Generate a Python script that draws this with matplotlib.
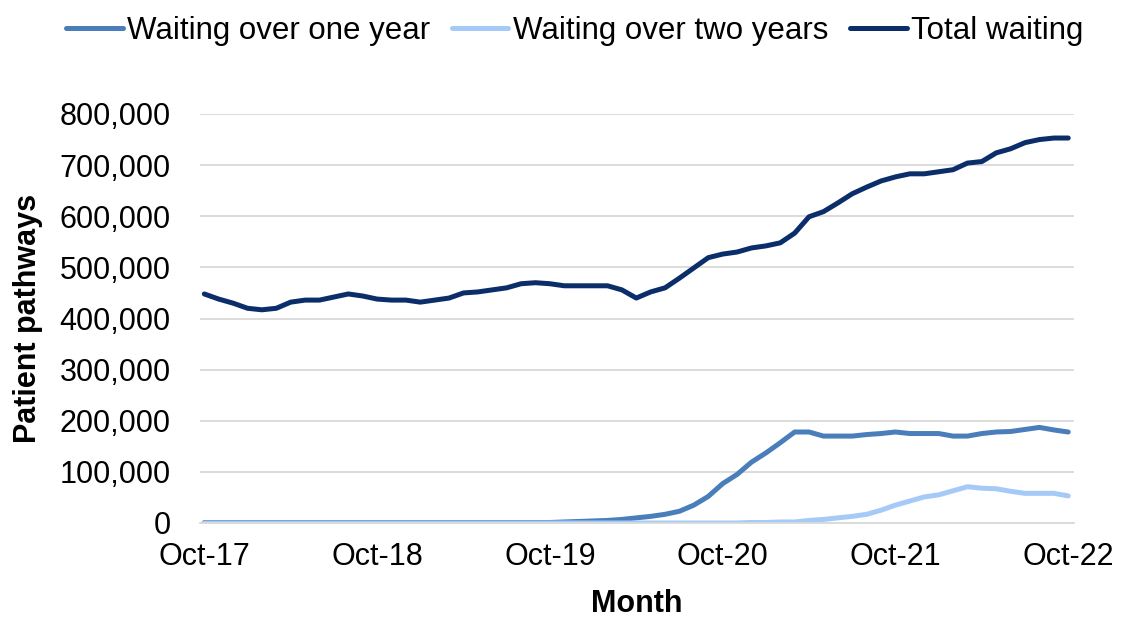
import matplotlib
matplotlib.use("Agg")
import matplotlib.pyplot as plt
from matplotlib.ticker import FuncFormatter

plt.rcParams['font.family'] = ['Liberation Sans', 'DejaVu Sans']

tick_labels = ["Oct-17", "Oct-18", "Oct-19", "Oct-20", "Oct-21", "Oct-22"]

total_waiting = [
    448, 438, 430, 420, 417, 420, 432, 436, 436, 442,
    448, 444, 438, 436, 436, 432, 436, 440, 450, 452,
    456, 460, 468, 470, 468, 464, 464, 464, 464, 456,
    440, 452, 460, 479, 499, 519, 526, 530, 538, 542,
    548, 567, 599, 609, 626, 644, 657, 669, 677, 683,
    683, 687, 691, 704, 707, 724, 732, 744, 750, 753, 753,
]
over_one_year = [
    1, 1, 1, 1, 1, 1, 1, 1, 1, 1,
    1, 1, 1, 1, 1, 1, 1, 1, 1, 1,
    1, 1, 1, 1, 1, 2, 3, 4, 5, 7,
    10, 13, 17, 23, 35, 52, 77, 95, 119, 137,
    157, 178, 178, 170, 170, 170, 173, 175, 178, 175,
    175, 175, 170, 170, 175, 178, 179, 183, 187, 182, 178,
]
over_two_years = [
    0, 0, 0, 0, 0, 0, 0, 0, 0, 0,
    0, 0, 0, 0, 0, 0, 0, 0, 0, 0,
    0, 0, 0, 0, 0, 0, 0, 0, 0, 0,
    0, 0, 0, 0, 0, 0, 0, 0, 1, 1,
    2, 2, 5, 7, 10, 13, 17, 25, 35, 43,
    51, 55, 63, 71, 68, 67, 62, 58, 58, 58, 53,
]

months = list(range(len(total_waiting)))
scale = 1000

fig = plt.figure(figsize=(11.21, 6.21), dpi=100)
ax = fig.add_axes([200/1121, (621-523)/621, (1074-200)/1121, (523-114)/621])

c1 = "#4A7EBB"
c2 = "#A6CAF8"
c3 = "#0B2E6B"
ax.plot(months, [v*scale for v in over_one_year], color=c1, lw=3.6, label="Waiting over one year", solid_capstyle='round')
ax.plot(months, [v*scale for v in over_two_years], color=c2, lw=3.6, label="Waiting over two years", solid_capstyle='round')
ax.plot(months, [v*scale for v in total_waiting], color=c3, lw=3.6, label="Total waiting", solid_capstyle='round')

ax.set_xlim(-0.3, 60.4)
ax.set_ylim(0, 800000)
ax.set_yticks(range(0, 800001, 100000))
ax.yaxis.set_major_formatter(FuncFormatter(lambda v, p: f"{int(v):,}"))
ax.set_xticks([0, 12, 24, 36, 48, 60])
ax.set_xticklabels(tick_labels)
ax.grid(axis='y', color='#D9D9D9', lw=1.3)
ax.set_axisbelow(True)
for s in ['top', 'right', 'left']:
    ax.spines[s].set_visible(False)
ax.spines['bottom'].set_color('#D9D9D9')
ax.spines['bottom'].set_linewidth(1.3)
ax.tick_params(axis='both', length=0, labelsize=22, colors='#000000')
ax.tick_params(axis='y', pad=21)
ax.tick_params(axis='x', pad=14)

ax.set_ylabel("Patient pathways", fontsize=22, fontweight='bold', labelpad=12)
ax.set_xlabel("Month", fontsize=22, fontweight='bold', labelpad=12)

fig.legend(loc='upper center', bbox_to_anchor=(575/1121, 1.02), ncol=3, frameon=False,
           fontsize=22.5, handlelength=1.8, handletextpad=0.15, columnspacing=0.7)

fig.savefig("out.png", dpi=100)
